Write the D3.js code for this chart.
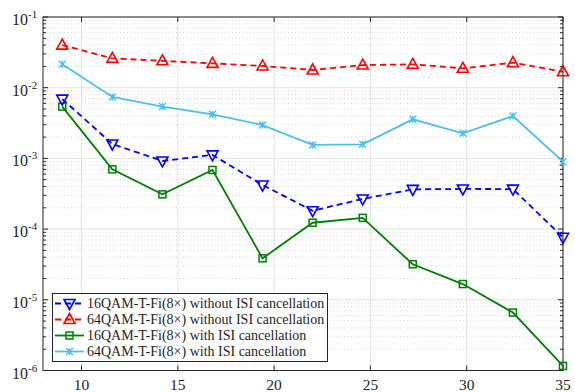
<!DOCTYPE html>
<html lang="en">
<head>
<meta charset="UTF-8">
<title>BER vs SNR</title>
<script src="https://d3js.org/d3.v7.min.js"></script>
<style>
  body { margin: 0; background: #fff; }
  svg { display: block; }
  text { font-family: "Liberation Serif", "Times New Roman", serif; fill: #262626; }
</style>
</head>
<body>
<svg id="chart" width="575" height="392"></svg>
<script>
// data
const snr = [9, 11.6, 14.2, 16.8, 19.4, 22, 24.6, 27.2, 29.8, 32.4, 35];
const ber16NoCancel = [0.0069, 0.0016, 0.00092, 0.00112, 0.00042, 0.000182, 0.000267, 0.000365, 0.00037, 0.000368, 0.0000766];
const ber64NoCancel = [0.040, 0.026, 0.024, 0.0221, 0.0203, 0.0178, 0.0209, 0.0214, 0.0188, 0.0226, 0.0168];
const ber16Cancel = [0.0054, 0.0007, 0.00031, 0.000686, 0.0000386, 0.000123, 0.000144, 0.0000318, 0.0000167, 0.0000066, 0.00000116];
const ber64Cancel = [0.0214, 0.0074, 0.0054, 0.0042, 0.00296, 0.00155, 0.00158, 0.00357, 0.00226, 0.00398, 0.0009];
const xTicks = [10, 15, 20, 25, 30, 35];
const yDecades = [-6, -5, -4, -3, -2, -1];

const series = [
  { name: "16QAM-T-Fi(8\u00d7) without ISI cancellation", values: ber16NoCancel, color: "#0000ff", dash: "6,4", marker: "tri-down" },
  { name: "64QAM-T-Fi(8\u00d7) without ISI cancellation", values: ber64NoCancel, color: "#ff0000", dash: "6,4", marker: "tri-up" },
  { name: "16QAM-T-Fi(8\u00d7) with ISI cancellation", values: ber16Cancel, color: "#008000", dash: null, marker: "square" },
  { name: "64QAM-T-Fi(8\u00d7) with ISI cancellation", values: ber64Cancel, color: "#4dbeee", dash: null, marker: "star" }
];

const svg = d3.select("#chart");
const plotL = 43, plotR = 563, plotT = 17, plotB = 370.5;

const x = d3.scaleLinear().domain([8, 35]).range([plotL, plotR]);
const y = d3.scaleLog().domain([1e-6, 1e-1]).range([plotB, plotT]);

// grid
const minor = [];
yDecades.slice(0, -1).forEach(d => { for (let m = 2; m <= 9; m++) minor.push(m * Math.pow(10, d)); });

svg.append("g").selectAll("line").data(minor).join("line")
  .attr("x1", plotL).attr("x2", plotR)
  .attr("y1", d => y(d)).attr("y2", d => y(d))
  .attr("stroke", "#c8c8c8").attr("stroke-width", 0.8).attr("stroke-dasharray", "1,2.5");

svg.append("g").selectAll("line").data(yDecades).join("line")
  .attr("x1", plotL).attr("x2", plotR)
  .attr("y1", d => y(Math.pow(10, d))).attr("y2", d => y(Math.pow(10, d)))
  .attr("stroke", "#e2e2e2").attr("stroke-width", 1);

svg.append("g").selectAll("line").data(xTicks).join("line")
  .attr("x1", d => x(d)).attr("x2", d => x(d))
  .attr("y1", plotT).attr("y2", plotB)
  .attr("stroke", "#e2e2e2").attr("stroke-width", 1);

// axes box and inward ticks
const axisColor = "#262626";
const ticks = svg.append("g").attr("stroke", axisColor).attr("stroke-width", 1);
xTicks.forEach(t => {
  ticks.append("line").attr("x1", x(t)).attr("x2", x(t)).attr("y1", plotB).attr("y2", plotB - 5);
  ticks.append("line").attr("x1", x(t)).attr("x2", x(t)).attr("y1", plotT).attr("y2", plotT + 5);
});
yDecades.forEach(d => {
  const yy = y(Math.pow(10, d));
  ticks.append("line").attr("x1", plotL).attr("x2", plotL + 5).attr("y1", yy).attr("y2", yy);
  ticks.append("line").attr("x1", plotR).attr("x2", plotR - 5).attr("y1", yy).attr("y2", yy);
});
minor.forEach(v => {
  const yy = y(v);
  ticks.append("line").attr("x1", plotL).attr("x2", plotL + 3).attr("y1", yy).attr("y2", yy);
  ticks.append("line").attr("x1", plotR).attr("x2", plotR - 3).attr("y1", yy).attr("y2", yy);
});
svg.append("rect").attr("x", plotL).attr("y", plotT)
  .attr("width", plotR - plotL).attr("height", plotB - plotT)
  .attr("fill", "none").attr("stroke", axisColor).attr("stroke-width", 1);

// tick labels
svg.append("g").selectAll("text").data(xTicks).join("text")
  .attr("x", d => x(d)).attr("y", plotB + 19)
  .attr("text-anchor", "middle").attr("font-size", 15.5)
  .text(d => d);

const yl = svg.append("g").selectAll("text").data(yDecades).join("text")
  .attr("x", 12).attr("y", d => y(Math.pow(10, d)) + 8)
  .attr("font-size", 16);
yl.append("tspan").text("10");
yl.append("tspan").attr("dy", -7).attr("font-size", 11).text(d => "-" + Math.abs(d));

// markers
function drawMarker(g, type, color, cx, cy) {
  if (type === "tri-up") {
    g.append("path").attr("d", `M${cx},${cy - 6}L${cx + 5.5},${cy + 4}L${cx - 5.5},${cy + 4}Z`)
      .attr("fill", "none").attr("stroke", color).attr("stroke-width", 1.6);
  } else if (type === "tri-down") {
    g.append("path").attr("d", `M${cx},${cy + 6}L${cx + 5.5},${cy - 4}L${cx - 5.5},${cy - 4}Z`)
      .attr("fill", "none").attr("stroke", color).attr("stroke-width", 1.6);
  } else if (type === "square") {
    g.append("rect").attr("x", cx - 3.5).attr("y", cy - 3.5).attr("width", 7).attr("height", 7)
      .attr("fill", "none").attr("stroke", color).attr("stroke-width", 1.5);
  } else {
    const r = 3.5;
    g.append("path").attr("d", `M${cx - r},${cy - r}L${cx + r},${cy + r}M${cx - r},${cy + r}L${cx + r},${cy - r}M${cx},${cy - r}L${cx},${cy + r}`)
      .attr("stroke", color).attr("stroke-width", 1.4);
  }
}

const line = d3.line().x(d => x(d[0])).y(d => y(d[1]));

// draw order: light blue, green, red, blue
[3, 2, 1, 0].forEach(i => {
  const s = series[i];
  const pts = snr.map((v, k) => [v, s.values[k]]);
  const g = svg.append("g");
  g.append("path").attr("d", line(pts))
    .attr("fill", "none").attr("stroke", s.color).attr("stroke-width", 1.8)
    .attr("stroke-dasharray", s.dash);
  pts.forEach(p => drawMarker(g, s.marker, s.color, x(p[0]), y(p[1])));
});

// legend
const lg = svg.append("g");
lg.append("rect").attr("x", 52.5).attr("y", 293.5).attr("width", 275).attr("height", 68)
  .attr("fill", "#fff").attr("stroke", axisColor).attr("stroke-width", 1);
series.forEach((s, i) => {
  const yy = 303.5 + i * 16;
  lg.append("line").attr("x1", 55).attr("x2", 84).attr("y1", yy).attr("y2", yy)
    .attr("stroke", s.color).attr("stroke-width", 1.8).attr("stroke-dasharray", s.dash);
  drawMarker(lg, s.marker, s.color, 69.5, yy);
  lg.append("text").attr("x", 87).attr("y", yy + 4.5).attr("font-size", 14).attr("fill", "#000")
    .text(s.name);
});
</script>
</body>
</html>
